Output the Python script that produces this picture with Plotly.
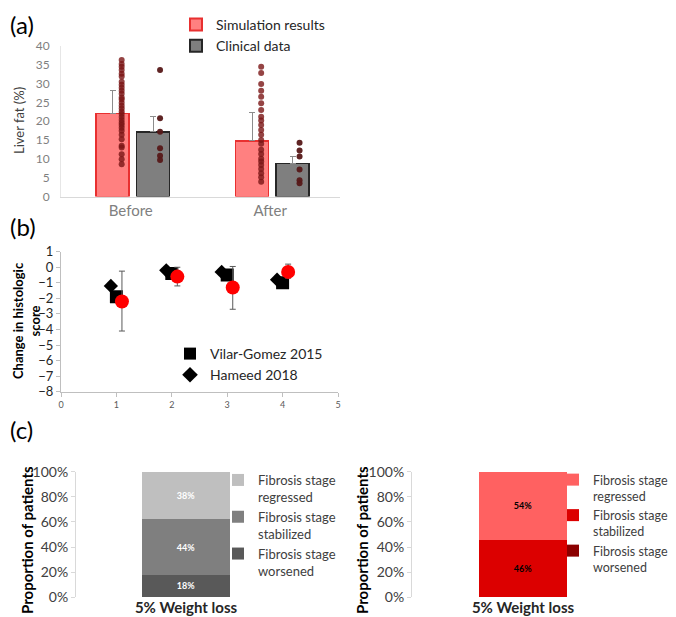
import plotly.graph_objects as go

# the page body adds an 8px margin, so the figure is drawn 8px smaller
# and screen positions are shifted by that offset
OFF = 8
W, H = 676 - OFF, 617 - OFF
FONT = "Lato"

# ---- panel (a): liver fat ----
groups = ["Before", "After"]
sim_mean = [22.0, 14.8]
sim_err = [6.3, 7.4]
clin_mean = [17.2, 8.8]
clin_err = [4.0, 1.9]
sim_before = [36.3, 35.2, 34.5, 33.6, 32.6, 31.9, 30.5, 29.7, 28.9, 28.1, 27.3, 26.3,
              25.8, 24.9, 24.1, 23.4, 22.6, 21.9, 21.1, 20.3, 19.6, 19.0, 18.3, 17.5,
              16.4, 15.2, 13.5, 13.0, 11.2, 9.9, 8.6]
sim_after = [34.5, 32.8, 29.9, 28.1, 26.5, 24.8, 23.0, 21.2, 20.2, 19.0, 17.7, 16.4,
             15.0, 14.0, 12.4, 11.3, 10.0, 9.3, 8.4, 7.3, 6.2, 5.1, 3.9]
clin_before = [33.6, 20.8, 17.2, 12.8, 10.8, 9.7]
clin_after = [14.3, 12.2, 10.6, 7.2, 4.3, 3.5]

# ---- panel (b): histologic score ----
vilar_x = [1, 2, 3, 4]
vilar_y = [-1.9, -0.4, -0.5, -1.0]
hameed_x = [0.9, 1.9, 2.9, 3.9]
hameed_y = [-1.2, -0.2, -0.3, -0.8]
model_x = [1.1, 2.1, 3.1, 4.1]
model_y = [-2.2, -0.6, -1.3, -0.3]
model_hi = [-0.25, 0.0, 0.05, 0.2]
model_lo = [-4.1, -1.2, -2.7, -0.7]

# ---- panel (c): fibrosis stage ----
stages = ["Fibrosis stage<br>worsened", "Fibrosis stage<br>stabilized", "Fibrosis stage<br>regressed"]
clinical_pct = [18, 44, 38]
model_pct = [0, 46, 54]
gray_cols = ["#595959", "#7f7f7f", "#bfbfbf"]
red_cols = ["#8b0000", "#dc0000", "#ff6161"]


def px(p):
    return (p - OFF) / W


def py(p):
    return 1 - (p - OFF) / H


fig = go.Figure()

pos = [i + 0.5 for i in range(len(groups))]
fig.add_trace(go.Bar(x=[p - 0.13 for p in pos], y=sim_mean, width=0.235, name="Simulation results",
                     marker=dict(color="#ff8080", line=dict(color="#e83030", width=1.5)),
                     error_y=dict(type="data", symmetric=False, array=sim_err, arrayminus=[0, 0],
                                  color="#8c8c8c", thickness=1, width=3),
                     xaxis="x", yaxis="y", legend="legend"))
fig.add_trace(go.Bar(x=[p + 0.16 for p in pos], y=clin_mean, width=0.235, name="Clinical data",
                     marker=dict(color="#7f7f7f", line=dict(color="#262626", width=1.5)),
                     error_y=dict(type="data", symmetric=False, array=clin_err, arrayminus=[0, 0],
                                  color="#8c8c8c", thickness=1, width=3),
                     xaxis="x", yaxis="y", legend="legend"))
for p, vals in zip(pos, [sim_before, sim_after]):
    fig.add_trace(go.Scatter(x=[p - 0.065] * len(vals), y=vals, mode="markers", showlegend=False,
                             marker=dict(color="#7b1515", size=6, opacity=0.8),
                             xaxis="x", yaxis="y"))
for p, vals in zip(pos, [clin_before, clin_after]):
    fig.add_trace(go.Scatter(x=[p + 0.21] * len(vals), y=vals, mode="markers", showlegend=False,
                             marker=dict(color="#561818", size=6, opacity=0.95),
                             xaxis="x", yaxis="y"))

# panel (b)
fig.add_trace(go.Scatter(x=vilar_x, y=vilar_y, mode="markers", name="Vilar-Gomez 2015",
                         marker=dict(symbol="square", color="black", size=13),
                         xaxis="x2", yaxis="y2", legend="legend2"))
fig.add_trace(go.Scatter(x=hameed_x, y=hameed_y, mode="markers", name="Hameed 2018",
                         marker=dict(symbol="diamond", color="black", size=11),
                         xaxis="x2", yaxis="y2", legend="legend2"))
fig.add_trace(go.Scatter(x=model_x, y=model_y, mode="markers", showlegend=False,
                         marker=dict(color="#ff0000", size=14),
                         error_y=dict(type="data", symmetric=False,
                                      array=[h - m for h, m in zip(model_hi, model_y)],
                                      arrayminus=[m - l for m, l in zip(model_y, model_lo)],
                                      color="#595959", thickness=1, width=3),
                         xaxis="x2", yaxis="y2"))

# panel (c)
for ax, leg, vals, cols, tcol in [("3", "legend3", clinical_pct, gray_cols, "white"),
                                   ("4", "legend4", model_pct, red_cols, "black")]:
    for name, v, c in zip(stages, vals, cols):
        fig.add_trace(go.Bar(x=["5% Weight loss"], y=[v], name=name, width=0.4,
                             marker=dict(color=c, line=dict(width=0)),
                             text=[f"<b>{v}%</b>" if v else ""], textposition="inside",
                             insidetextanchor="middle",
                             textfont=dict(size=9, color=tcol, family=FONT),
                             xaxis="x" + ax, yaxis="y" + ax, legend=leg))

fig.update_layout(
    width=W, height=H, margin=dict(l=0, r=0, t=0, b=0, autoexpand=False),
    plot_bgcolor="white", paper_bgcolor="white",
    font=dict(family=FONT, color="#404040"),
    barmode="stack",
    xaxis=dict(domain=[px(61), px(340)], range=[0, 2], tickvals=pos, ticktext=groups,
               tickfont=dict(size=15, color="#808080"), showline=True, linecolor="#d9d9d9",
               showgrid=False, zeroline=False, ticks=""),
    yaxis=dict(domain=[py(196.5), py(46)], range=[0, 40], dtick=5,
               tickfont=dict(size=12, color="#7f7f7f"), showline=True, linecolor="#e6e6e6",
               showgrid=False, zeroline=False, ticks="", ticklabelstandoff=8),
    xaxis2=dict(domain=[px(61), px(338)], range=[0, 5], dtick=1, anchor="y2",
                tickfont=dict(size=9, color="#595959"), showline=True, linecolor="#bfbfbf",
                ticks="outside", ticklen=4, tickcolor="#bfbfbf", showgrid=False, zeroline=False),
    yaxis2=dict(domain=[py(391.7), py(251.7)], range=[-8, 1], dtick=1, anchor="x2",
                tickfont=dict(size=13, color="#262626"), showline=True, linecolor="#bfbfbf",
                ticks="outside", ticklen=4, tickcolor="#bfbfbf", showgrid=False, zeroline=False),
    xaxis3=dict(domain=[px(76), px(296)], anchor="y3", ticks="", showline=False,
                tickvals=["5% Weight loss"], ticktext=["<b>5% Weight loss</b>"],
                tickfont=dict(size=15, color="#262626")),
    yaxis3=dict(domain=[py(597.3), py(471.7)], range=[0, 100], dtick=20, ticksuffix="%",
                anchor="x3", showline=True, linecolor="#d9d9d9", ticks="outside", ticklen=4,
                tickcolor="#d9d9d9", showgrid=False, zeroline=False,
                tickfont=dict(size=14, color="#404040")),
    xaxis4=dict(domain=[px(412), px(634)], anchor="y4", ticks="", showline=False,
                tickvals=["5% Weight loss"], ticktext=["<b>5% Weight loss</b>"],
                tickfont=dict(size=15, color="#262626")),
    yaxis4=dict(domain=[py(597.3), py(471.7)], range=[0, 100], dtick=20, ticksuffix="%",
                anchor="x4", showline=True, linecolor="#d9d9d9", ticks="outside", ticklen=4,
                tickcolor="#d9d9d9", showgrid=False, zeroline=False,
                tickfont=dict(size=14, color="#404040")),
    legend=dict(x=px(176), y=py(9), xanchor="left", yanchor="top",
                font=dict(size=14, color="#262626"), bgcolor="rgba(0,0,0,0)",
                traceorder="normal", itemsizing="constant", tracegroupgap=0),
    legend2=dict(x=px(170), y=py(338), xanchor="left", yanchor="top",
                 font=dict(size=14, color="#262626"), bgcolor="rgba(0,0,0,0)",
                 itemsizing="constant"),
    legend3=dict(x=px(218), y=py(465), xanchor="left", yanchor="top",
                 font=dict(size=13, color="#404040"), bgcolor="rgba(0,0,0,0)",
                 traceorder="reversed", valign="top"),
    legend4=dict(x=px(553), y=py(465), xanchor="left", yanchor="top",
                 font=dict(size=12.5, color="#404040"), bgcolor="rgba(0,0,0,0)",
                 traceorder="reversed", valign="top"),
    annotations=[
        dict(text="(a)", x=0, y=py(8), xref="paper", yref="paper", xanchor="left", yanchor="top",
             showarrow=False, font=dict(size=24, color="black")),
        dict(text="(b)", x=0, y=py(210), xref="paper", yref="paper", xanchor="left", yanchor="top",
             showarrow=False, font=dict(size=24, color="black")),
        dict(text="(c)", x=0, y=py(413), xref="paper", yref="paper", xanchor="left", yanchor="top",
             showarrow=False, font=dict(size=24, color="black")),
        dict(text="Liver fat (%)", x=px(19), y=py(121), xref="paper", yref="paper",
             xanchor="center", yanchor="middle",
             textangle=-90, showarrow=False, font=dict(size=13, color="#404040")),
        dict(text="<b>Change in histologic<br>score</b>", x=px(26), y=py(321), xref="paper",
             yref="paper", xanchor="center", yanchor="middle",
             textangle=-90, showarrow=False, font=dict(size=13, color="black")),
        dict(text="<b>Proportion of patients</b>", x=px(27), y=py(540), xref="paper",
             yref="paper", xanchor="center", yanchor="middle",
             textangle=-90, showarrow=False, font=dict(size=15, color="black")),
        dict(text="<b>Proportion of patients</b>", x=px(362), y=py(540), xref="paper",
             yref="paper", xanchor="center", yanchor="middle",
             textangle=-90, showarrow=False, font=dict(size=15, color="black")),
    ],
)

fig.write_html("out.html")
